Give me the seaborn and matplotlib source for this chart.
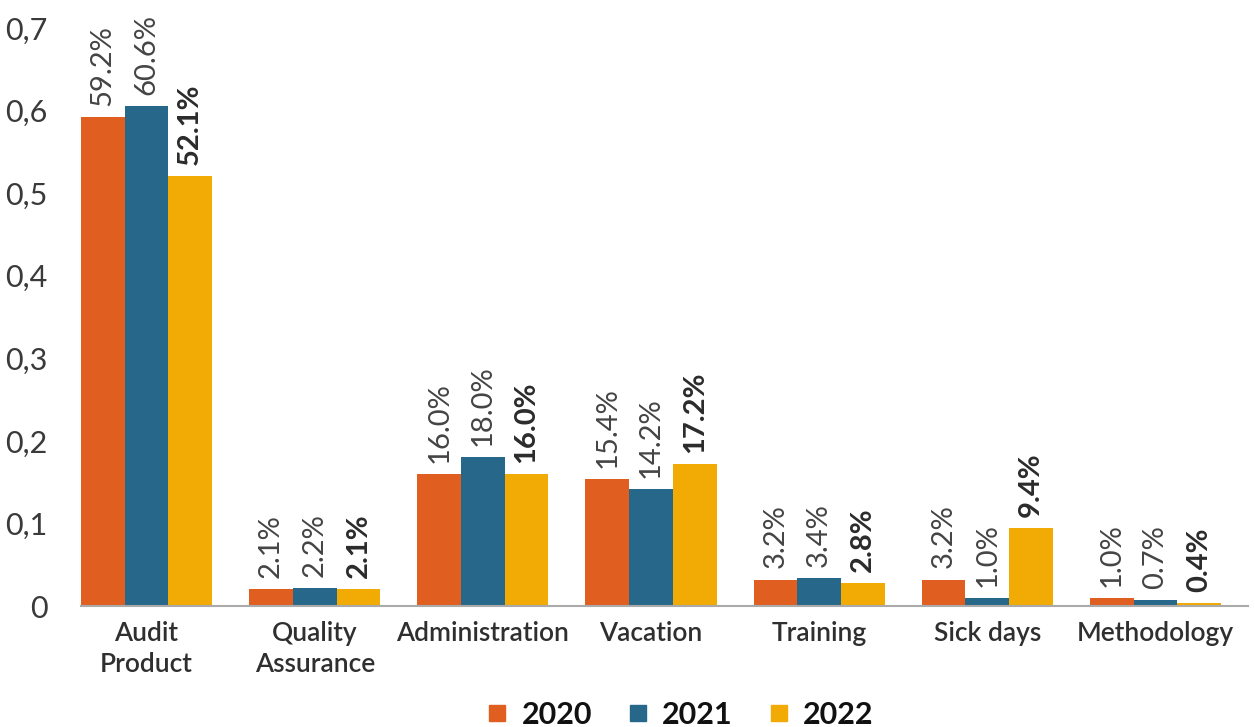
import matplotlib
matplotlib.use("Agg")
import matplotlib.pyplot as plt
import seaborn as sns
import pandas as pd
from matplotlib.lines import Line2D

categories = ["Audit\nProduct", "Quality\nAssurance", "Administration", "Vacation",
              "Training", "Sick days", "Methodology"]
years = ["2020", "2021", "2022"]
v2020 = [59.2, 2.1, 16.0, 15.4, 3.2, 3.2, 1.0]
v2021 = [60.6, 2.2, 18.0, 14.2, 3.4, 1.0, 0.7]
v2022 = [52.1, 2.1, 16.0, 17.2, 2.8, 9.4, 0.4]
yticks = [0, 0.1, 0.2, 0.3, 0.4, 0.5, 0.6, 0.7]
ytick_labels = ["0", "0,1", "0,2", "0,3", "0,4", "0,5", "0,6", "0,7"]
colors = ["#DF5E20", "#27688A", "#F2AA05"]

rows = []
for y, vals in zip(years, [v2020, v2021, v2022]):
    for c, v in zip(categories, vals):
        rows.append({"cat": c, "year": y, "val": v / 100})
df = pd.DataFrame(rows)

sns.set_theme(style="white")
plt.rcParams["font.family"] = ["Lato", "DejaVu Sans"]

fig = plt.figure(figsize=(12.55, 7.27), dpi=100)
ax = fig.add_axes([0.0645, 0.1664, 0.9299, 0.7951])

sns.barplot(data=df, x="cat", y="val", hue="year", order=categories, hue_order=years,
            palette=colors, saturation=1, width=0.78, ax=ax, legend=False, errorbar=None,
            linewidth=0)

for i, cont in enumerate(ax.containers):
    vals = [v2020, v2021, v2022][i]
    for bar, v in zip(cont, vals):
        x = bar.get_x() + bar.get_width() / 2
        h = bar.get_height()
        ax.annotate(f"{v:.1f}%", (x, h), xytext=(0, 8), textcoords="offset points",
                    rotation=90, ha="center", va="bottom", fontsize=21,
                    fontweight="bold" if i == 2 else "normal",
                    color="#2b2b2b" if i == 2 else "#444444")

ax.set_xlim(-0.39, 6.55)
ax.set_ylim(0, 0.7)
ax.set_yticks(yticks)
ax.set_yticklabels(ytick_labels, fontsize=22, color="#3a3a3a", fontweight="normal")
ax.set_xticks(range(len(categories)))
ax.set_xticklabels(categories, fontsize=19, color="#2f2f2f", fontweight="semibold",
                   linespacing=1.3)
ax.tick_params(axis="x", length=0, pad=11)
ax.tick_params(axis="y", length=0, pad=24)
ax.set_xlabel("")
ax.set_ylabel("")
for s in ["top", "right", "left"]:
    ax.spines[s].set_visible(False)
ax.spines["bottom"].set_color("#aaaaaa")
ax.spines["bottom"].set_linewidth(1.5)
ax.grid(False)

handles = [Line2D([0], [0], marker="s", linestyle="", markersize=11, markerfacecolor=c,
                  markeredgecolor=c) for c in colors]
leg = fig.legend(handles, years, loc="lower center", bbox_to_anchor=(0.54, -0.04), ncol=3,
                 frameon=False, prop={"size": 22, "weight": "bold"}, handletextpad=0.3,
                 columnspacing=1.0, handlelength=1.0)
for t in leg.get_texts():
    t.set_color("#111111")

fig.savefig("out.png", dpi=100)
